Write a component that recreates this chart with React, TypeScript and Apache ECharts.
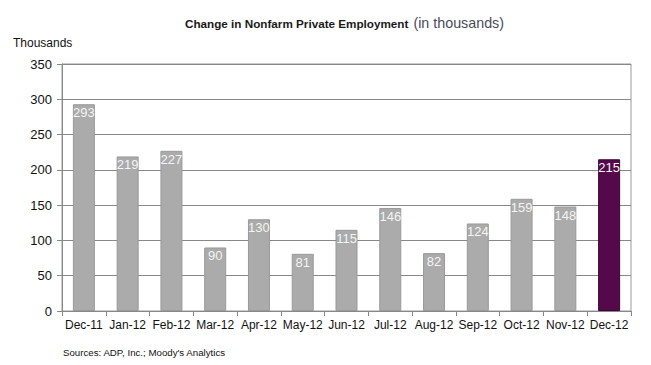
import React, { useEffect, useRef } from "react";
import * as echarts from "echarts";

const categories = ["Dec-11", "Jan-12", "Feb-12", "Mar-12", "Apr-12", "May-12", "Jun-12", "Jul-12", "Aug-12", "Sep-12", "Oct-12", "Nov-12", "Dec-12"];
const values = [293, 219, 227, 90, 130, 81, 115, 146, 82, 124, 159, 148, 215];
const highlightIndex = 12;

export default function App() {
  const ref = useRef<HTMLDivElement>(null);
  useEffect(() => {
    if (!ref.current) return;
    const chart = echarts.init(ref.current, null, { renderer: "svg" });
    const font = "Arial, 'Liberation Sans', sans-serif";
    chart.setOption({
      animation: false,
      backgroundColor: "#ffffff",
      textStyle: { fontFamily: font },
      title: [
        {
          text: "{b|Change in Nonfarm Private Employment}{n|(in thousands)}",
          left: 180,
          top: 11,
          textStyle: {
            rich: {
              b: { fontFamily: font, fontSize: 11.7, fontWeight: "bold", color: "#1a1a1a", padding: [0, 5, 0, 0] },
              n: { fontFamily: font, fontSize: 14.3, fontWeight: "normal", color: "#4a4a5a" },
            },
          },
        },
        {
          text: "Thousands",
          left: 8,
          top: 32,
          textStyle: { fontFamily: font, fontSize: 12, fontWeight: "normal", color: "#111" },
        },
        {
          text: "Sources: ADP, Inc.; Moody's Analytics",
          left: 58,
          top: 342,
          textStyle: { fontFamily: font, fontSize: 9.7, fontWeight: "normal", color: "#111" },
        },
      ],
      grid: { left: 62, right: 20, top: 64, bottom: 54, show: true, borderColor: "#999", borderWidth: 1 },
      xAxis: {
        type: "category",
        data: categories,
        axisLine: { lineStyle: { color: "#888" } },
        axisTick: { show: true, length: 5, lineStyle: { color: "#888" } },
        axisLabel: { color: "#111", fontSize: 12, margin: 8, fontFamily: font, interval: 0 },
      },
      yAxis: {
        type: "value",
        min: 0,
        max: 350,
        interval: 50,
        axisLine: { show: true, lineStyle: { color: "#888" } },
        axisTick: { show: true, length: 5, lineStyle: { color: "#888" } },
        axisLabel: { color: "#111", fontSize: 13, margin: 10, fontFamily: font },
        splitLine: { lineStyle: { color: "#888" } },
      },
      series: [
        {
          type: "bar",
          barWidth: 22,
          data: values.map((v, i) => ({
            value: v,
            itemStyle:
              i === highlightIndex
                ? { color: "#54094a", borderColor: "#3d0535", borderWidth: 1 }
                : { color: "#ababab", borderColor: "#999999", borderWidth: 1 },
          })),
          label: {
            show: true,
            position: "insideTop",
            distance: 2,
            color: "#f4f4f4",
            fontSize: 13,
            fontFamily: font,
          },
        },
      ],
    });
    return () => chart.dispose();
  }, []);
  return <div ref={ref} style={{ width: 651, height: 365, position: "absolute", left: 0, top: 0 }} />;
}
